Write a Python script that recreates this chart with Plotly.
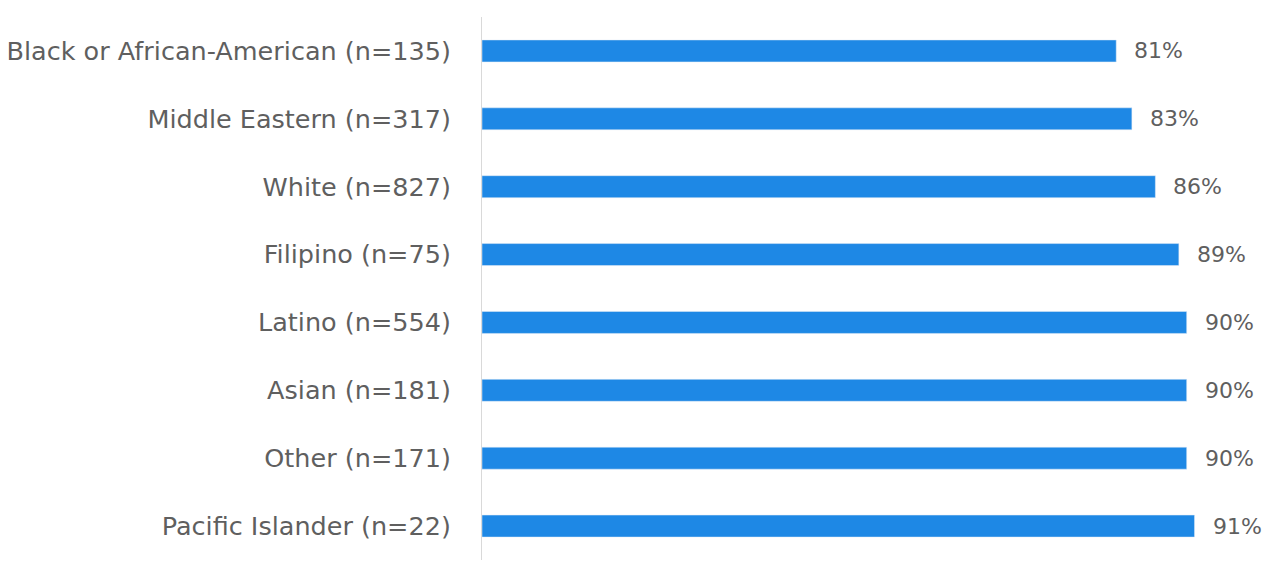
import plotly.graph_objects as go

categories = ["Black or African-American (n=135)", "Middle Eastern (n=317)", "White (n=827)",
              "Filipino (n=75)", "Latino (n=554)", "Asian (n=181)", "Other (n=171)",
              "Pacific Islander (n=22)"]
values = [81, 83, 86, 89, 90, 90, 90, 91]
labels = ["81%", "83%", "86%", "89%", "90%", "90%", "90%", "91%"]

fig = go.Figure(go.Bar(
    x=values, y=categories, orientation="h",
    marker=dict(color="#1E88E5"),
    cliponaxis=False,
))
for v, c, t in zip(values, categories, labels):
    fig.add_annotation(x=v, y=c, text=t, showarrow=False, xanchor="left", xshift=16,
                       font=dict(family="DejaVu Sans", size=22, color="#5f5f5f"))
fig.update_layout(
    width=1268, height=561,
    margin=dict(l=482, r=3, t=17, b=1),
    plot_bgcolor="white", paper_bgcolor="white",
    bargap=0.676, showlegend=False,
    font=dict(family="DejaVu Sans", color="#5f5f5f", size=25.5),
    xaxis=dict(range=[0, 100], visible=False),
    yaxis=dict(autorange="reversed", showline=True, linecolor="#d9d9d9", linewidth=1,
               showgrid=False, ticks="", ticklabelstandoff=25,
               tickfont=dict(family="DejaVu Sans", size=25.5, color="#5f5f5f")),
)
fig.write_html("out.html")
